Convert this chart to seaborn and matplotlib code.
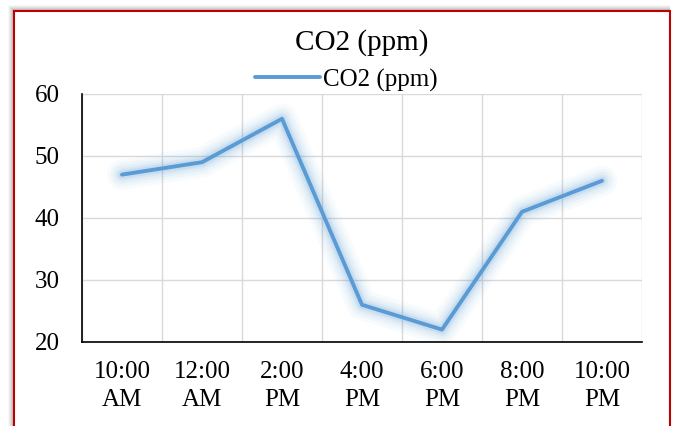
import matplotlib
matplotlib.use("Agg")
import matplotlib.pyplot as plt
from matplotlib.patches import Rectangle
import seaborn as sns
import pandas as pd
import numpy as np

times = ["10:00\nAM", "12:00\nAM", "2:00\nPM", "4:00\nPM", "6:00\nPM", "8:00\nPM", "10:00\nPM"]
co2 = [47, 49, 56, 26, 22, 41, 46]
series_name = "CO2 (ppm)"
yticks = [20, 30, 40, 50, 60]

sns.set_theme(style="white")
plt.rcParams['font.family'] = ['Liberation Serif', 'DejaVu Serif']

df = pd.DataFrame({"time": times, "co2": co2})

fig = plt.figure(figsize=(6.76, 4.26), dpi=100)
fig.patch.set_facecolor("white")

# shadow and border
for i, a in enumerate([0.03, 0.04, 0.05, 0.06, 0.08, 0.10]):
    off = (6 - i)
    fig.patches.append(Rectangle(((14 - off) / 676, -0.1), (656 + off) / 676, (426 - 11 + off) / 426 + 0.1,
                                 transform=fig.transFigure, facecolor="black", alpha=a,
                                 edgecolor="none", zorder=0))
fig.patches.append(Rectangle((14 / 676, -0.1), 656 / 676, (426 - 11) / 426 + 0.1,
                             transform=fig.transFigure, facecolor="white",
                             edgecolor="#C00000", linewidth=1.5, zorder=1))

ax = fig.add_axes([82 / 676, 84 / 426, 560 / 676, 248 / 426])
ax.set_zorder(2)
ax.patch.set_alpha(0)

# glow
for w, a in [(22, 0.04), (17, 0.05), (13, 0.07), (9, 0.09), (6, 0.12)]:
    sns.lineplot(data=df, x="time", y="co2", sort=False, ax=ax, color="#5B9BD5",
                 linewidth=w, alpha=a, legend=False, solid_capstyle="round", solid_joinstyle="round")
sns.lineplot(data=df, x="time", y="co2", sort=False, ax=ax, color="#5B9BD5",
             linewidth=2.8, label=series_name, solid_capstyle="round")

ax.set_xlim(-0.5, len(times) - 0.5)
ax.set_ylim(20, 60)
ax.set_yticks(yticks)
ax.set_xticks(range(len(times)))
ax.set_xticklabels(times, linespacing=1.35)
ax.set_xticks(np.arange(-0.5, len(times), 1.0), minor=True)
ax.grid(True, which="minor", axis="x", color="#D9D9D9", linewidth=1)
ax.grid(True, which="major", axis="y", color="#D9D9D9", linewidth=1)
ax.grid(False, which="major", axis="x")
ax.set_xlabel("")
ax.set_ylabel("")
for s in ["top", "right"]:
    ax.spines[s].set_visible(False)
ax.spines["left"].set_color("black")
ax.spines["bottom"].set_color("black")
ax.spines["left"].set_linewidth(1.2)
ax.spines["bottom"].set_linewidth(1.2)
ax.tick_params(axis="both", which="both", length=0, labelsize=18, colors="black")
ax.tick_params(axis="y", pad=16)
ax.tick_params(axis="x", pad=14)

ax.set_title(series_name, fontsize=21, pad=32, color="black")
leg = ax.legend(loc="center", bbox_to_anchor=(0.472, 1 + 14 / 248), frameon=False, fontsize=18,
                handlelength=2.6, handletextpad=0.1, borderaxespad=0.0, borderpad=0.0)
for t in leg.get_texts():
    t.set_color("black")

fig.savefig("out.png", dpi=100)
